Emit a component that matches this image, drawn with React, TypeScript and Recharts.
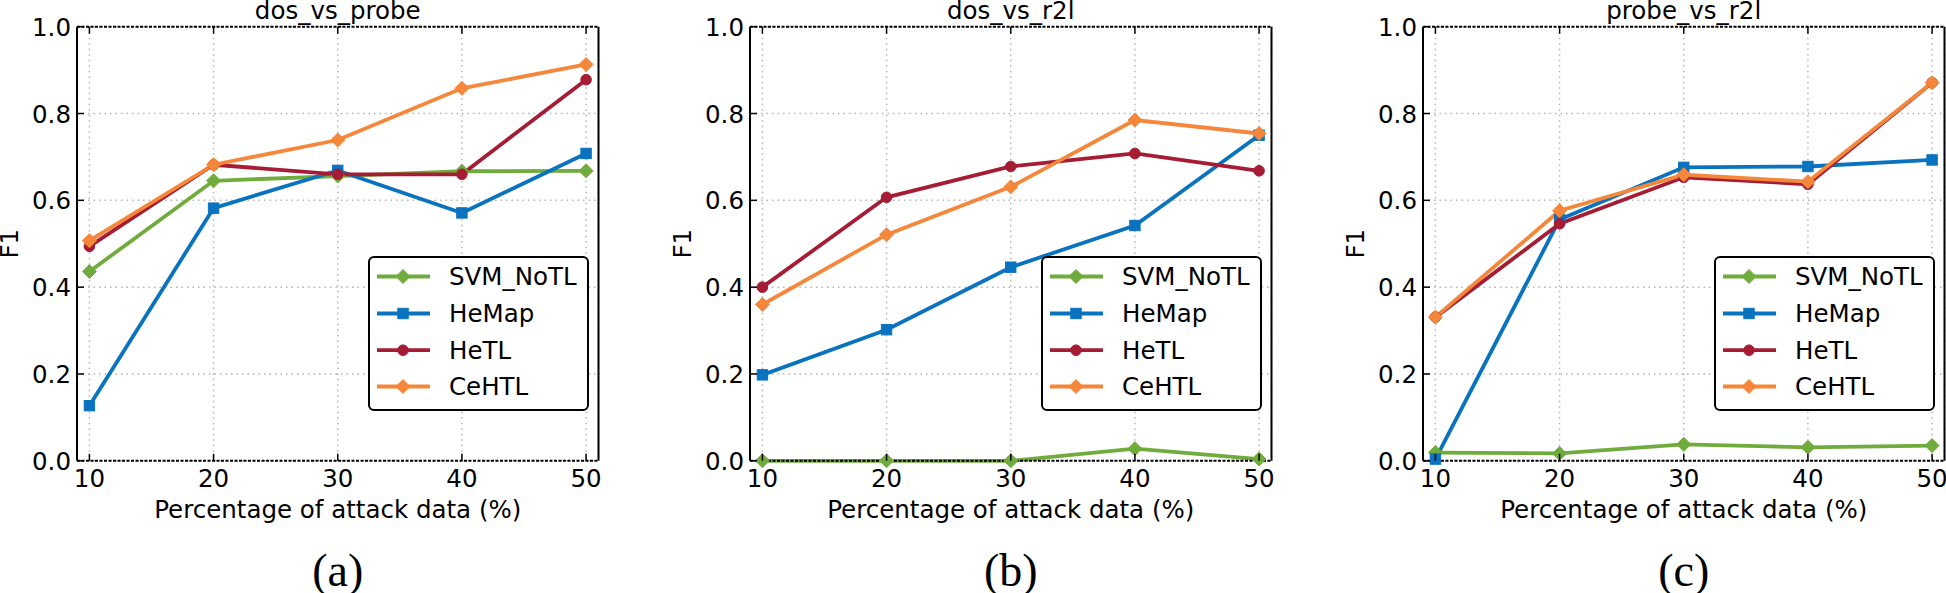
import React from 'react';
import { LineChart, Line, XAxis, YAxis, CartesianGrid, Legend } from 'recharts';

// ---------- data ----------
const percentages = [10, 20, 30, 40, 50];
const xTicks = [10, 20, 30, 40, 50];
const yTicks = [0, 0.2, 0.4, 0.6, 0.8, 1.0];

const seriesNames = ['SVM_NoTL', 'HeMap', 'HeTL', 'CeHTL'];
const seriesColors = ['#70ac3c', '#0a73bf', '#a51c34', '#f5873a'];
const seriesMarkers = ['diamond', 'square', 'circle', 'diamond'];

const panelTitles = ['dos_vs_probe', 'dos_vs_r2l', 'probe_vs_r2l'];
const panelLetters = ['(a)', '(b)', '(c)'];
const xLabel = 'Percentage of attack data (%)';
const yLabel = 'F1';

const dosProbeSvm = [0.436, 0.645, 0.656, 0.667, 0.668];
const dosProbeHeMap = [0.127, 0.582, 0.669, 0.571, 0.708];
const dosProbeHeTL = [0.494, 0.682, 0.66, 0.66, 0.878];
const dosProbeCeHTL = [0.507, 0.682, 0.739, 0.858, 0.913];

const dosR2lSvm = [0.0, 0.0, 0.0, 0.028, 0.004];
const dosR2lHeMap = [0.198, 0.302, 0.446, 0.542, 0.75];
const dosR2lHeTL = [0.4, 0.607, 0.678, 0.708, 0.668];
const dosR2lCeHTL = [0.36, 0.521, 0.631, 0.785, 0.754];

const probeR2lSvm = [0.019, 0.017, 0.038, 0.031, 0.035];
const probeR2lHeMap = [0.004, 0.556, 0.676, 0.678, 0.693];
const probeR2lHeTL = [0.331, 0.546, 0.653, 0.637, 0.871];
const probeR2lCeHTL = [0.331, 0.576, 0.659, 0.643, 0.871];

const panelSeries = [
  [dosProbeSvm, dosProbeHeMap, dosProbeHeTL, dosProbeCeHTL],
  [dosR2lSvm, dosR2lHeMap, dosR2lHeTL, dosR2lCeHTL],
  [probeR2lSvm, probeR2lHeMap, probeR2lHeTL, probeR2lCeHTL],
];

// ---------- layout ----------
const PLOT_LEFTS = [76.7, 749.5, 1422.8];
const PLOT_W = 521.5;
const PLOT_TOP = 26.7;
const PLOT_BOTTOM = 460.8;
const Y_AXIS_W = 100;
const X_AXIS_H = 60;
const CHART_H = 593;
const RIGHT_PAD = [24, 24, 2];
const FONT = '"DejaVu Sans", sans-serif';
const FS = 24.5;
const LINE_W = 3.8;

function markerShape(kind: string, cx: number, cy: number, color: string, key?: string) {
  if (kind === 'diamond') {
    const r = 7;
    return (
      <path key={key} d={`M${cx},${cy - r}L${cx + r},${cy}L${cx},${cy + r}L${cx - r},${cy}Z`} fill={color} stroke={color} strokeWidth={1} />
    );
  }
  if (kind === 'square') {
    const h = 5.2;
    return <rect key={key} x={cx - h} y={cy - h} width={2 * h} height={2 * h} fill={color} stroke={color} strokeWidth={1} />;
  }
  return <circle key={key} cx={cx} cy={cy} r={5.3} fill={color} stroke={color} strokeWidth={1} />;
}

const makeDot = (kind: string, color: string) => (props: any) => {
  const { cx, cy, index } = props;
  if (cx == null || cy == null) return <g key={`e-${index}`} />;
  return markerShape(kind, cx, cy, color, `m-${index}`);
};

const LeftTick = (props: any) => {
  const { x, y, payload } = props;
  return (
    <g>
      <line x1={x} x2={x + 7} y1={y} y2={y} stroke="#000" strokeWidth={1.5} />
      <text x={x - 6} y={y + 9} textAnchor="end" fontFamily={FONT} fontSize={FS} fill="#000">
        {Number(payload.value).toFixed(1)}
      </text>
    </g>
  );
};

const RightTick = (props: any) => {
  const { x, y } = props;
  return <line x1={x} x2={x - 7} y1={y} y2={y} stroke="#000" strokeWidth={1.5} />;
};

const BottomTick = (props: any) => {
  const { x, y, payload } = props;
  return (
    <g>
      <line x1={x} x2={x} y1={y} y2={y - 7} stroke="#000" strokeWidth={1.5} />
      <text x={x} y={y + 26.5} textAnchor="middle" fontFamily={FONT} fontSize={FS} fill="#000">
        {payload.value}
      </text>
    </g>
  );
};

const TopTick = (props: any) => {
  const { x, y } = props;
  return <line x1={x} x2={x} y1={y} y2={y + 7} stroke="#000" strokeWidth={1.5} />;
};

const LegendBox = () => {
  const w = 221;
  const h = 155;
  const rows = [20.5, 57.5, 94.2, 130.5];
  return (
    <svg width={w} height={h} style={{ display: 'block', overflow: 'visible' }}>
      <rect x={1} y={1} width={w - 2} height={h - 2} rx={5} ry={5} fill="#fff" stroke="#000" strokeWidth={2} />
      {seriesNames.map((name, i) => (
        <g key={name}>
          <line x1={9} x2={62} y1={rows[i]} y2={rows[i]} stroke={seriesColors[i]} strokeWidth={LINE_W} />
          {markerShape(seriesMarkers[i], 35, rows[i], seriesColors[i])}
          <text x={81} y={rows[i] + 8.8} fontFamily={FONT} fontSize={FS} fill="#000">
            {name}
          </text>
        </g>
      ))}
    </svg>
  );
};

function Panel({ idx }: { idx: number }) {
  const series = panelSeries[idx];
  const data = percentages.map((p, i) => ({
    pct: p,
    s0: series[0][i],
    s1: series[1][i],
    s2: series[2][i],
    s3: series[3][i],
  }));
  const rightPad = RIGHT_PAD[idx];
  const width = Y_AXIS_W + PLOT_W + rightPad;
  const letter = panelLetters[idx];
  const title = panelTitles[idx];

  const bottomLabel = (p: any) => {
    const vb = p.viewBox || {};
    const cx = (vb.x ?? Y_AXIS_W) + (vb.width ?? PLOT_W) / 2;
    return (
      <g>
        <text x={cx} y={19} textAnchor="middle" fontFamily={FONT} fontSize={FS} fill="#000">
          {title}
        </text>
        <text x={cx} y={517.5} textAnchor="middle" fontFamily={FONT} fontSize={FS} fill="#000">
          {xLabel}
        </text>
        <text x={cx} y={586} textAnchor="middle" fontFamily='"Liberation Serif", "Times New Roman", serif' fontSize={46} fill="#000">
          {letter}
        </text>
      </g>
    );
  };

  const leftLabel = (p: any) => {
    const vb = p.viewBox || {};
    const right = (vb.x ?? 0) + (vb.width ?? Y_AXIS_W);
    const cy = (vb.y ?? PLOT_TOP) + (vb.height ?? PLOT_BOTTOM - PLOT_TOP) / 2;
    const bx = right - 67.5 + 8.9;
    return (
      <text x={bx} y={cy} transform={`rotate(-90 ${bx} ${cy})`} textAnchor="middle" fontFamily={FONT} fontSize={FS} fill="#000">
        {yLabel}
      </text>
    );
  };

  return (
    <div style={{ position: 'absolute', left: PLOT_LEFTS[idx] - Y_AXIS_W, top: 0, width, height: CHART_H }}>
      <LineChart
        width={width}
        height={CHART_H}
        data={data}
        margin={{ top: PLOT_TOP - 1, right: rightPad - 1, bottom: CHART_H - PLOT_BOTTOM - X_AXIS_H, left: 0 }}
      >
        <CartesianGrid stroke="#b4b4b4" strokeDasharray="1.5 4" strokeWidth={1.5} />
        <XAxis
          dataKey="pct"
          type="number"
          domain={[9, 51]}
          ticks={xTicks}
          interval={0}
          height={X_AXIS_H}
          tickSize={0}
          tickMargin={0}
          tickLine={false}
          tick={<BottomTick />}
          axisLine={{ stroke: '#000', strokeWidth: 2, strokeDasharray: '3 1.5' }}
          label={bottomLabel}
        />
        <XAxis
          xAxisId="top"
          orientation="top"
          dataKey="pct"
          type="number"
          domain={[9, 51]}
          ticks={xTicks}
          interval={0}
          height={1}
          tickSize={0}
          tickMargin={0}
          tickLine={false}
          tick={<TopTick />}
          axisLine={{ stroke: '#000', strokeWidth: 2, strokeDasharray: '3 1.5' }}
        />
        <YAxis
          type="number"
          domain={[0, 1]}
          ticks={yTicks}
          interval={0}
          width={Y_AXIS_W}
          tickSize={0}
          tickMargin={0}
          tickLine={false}
          tick={<LeftTick />}
          axisLine={{ stroke: '#000', strokeWidth: 2 }}
          label={leftLabel}
        />
        <YAxis
          yAxisId="right"
          orientation="right"
          type="number"
          domain={[0, 1]}
          ticks={yTicks}
          interval={0}
          width={1}
          tickSize={0}
          tickMargin={0}
          tickLine={false}
          tick={<RightTick />}
          axisLine={{ stroke: '#000', strokeWidth: 2 }}
        />
        {seriesNames.map((name, i) => (
          <Line
            key={name}
            name={name}
            dataKey={`s${i}`}
            type="linear"
            stroke={seriesColors[i]}
            strokeWidth={LINE_W}
            dot={makeDot(seriesMarkers[i], seriesColors[i])}
            activeDot={false}
            isAnimationActive={false}
          />
        ))}
        <Legend
          layout="horizontal"
          verticalAlign="middle"
          align="center"
          wrapperStyle={{ left: Y_AXIS_W + 291.5, top: 256, width: 221, height: 155 }}
          content={() => <LegendBox />}
        />
      </LineChart>
    </div>
  );
}

export default function App() {
  return (
    <div style={{ position: 'absolute', left: 0, top: 0, width: 1946, height: 593, background: '#fff', overflow: 'hidden' }}>
      <Panel idx={0} />
      <Panel idx={1} />
      <Panel idx={2} />
    </div>
  );
}
